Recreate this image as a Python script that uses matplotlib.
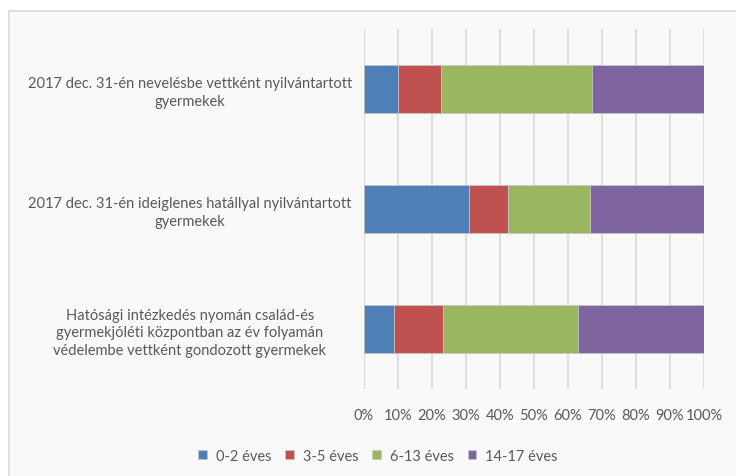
import matplotlib.pyplot as plt
from matplotlib.patches import Rectangle

# Adatok (leolvasva az ábráról, %)
categories = [
    '2017 dec. 31-én nevelésbe vettként nyilvántartott\ngyermekek',
    '2017 dec. 31-én ideiglenes hatállyal nyilvántartott\ngyermekek',
    'Hatósági intézkedés nyomán család-és\ngyermekjóléti központban az év folyamán\nvédelembe vettként gondozott gyermekek',
]
series_names = ['0-2 éves', '3-5 éves', '6-13 éves', '14-17 éves']
age_0_2 = [10.1, 31.0, 8.9]
age_3_5 = [12.5, 11.3, 14.3]
age_6_13 = [44.4, 24.3, 39.7]
age_14_17 = [33.0, 33.4, 37.1]
tick_labels = ['0%', '10%', '20%', '30%', '40%', '50%', '60%', '70%', '80%', '90%', '100%']

colors = ['#4f7fb7', '#bf5250', '#9bb660', '#7f65a0']
text_color = '#595959'

plt.rcParams['font.family'] = ['Lato', 'DejaVu Sans']

fig = plt.figure(figsize=(7.36, 4.77), dpi=100)
fig.patch.set_facecolor('white')

# keret a diagramterület körül
frame = Rectangle((8.5 / 736, -0.01), 1.0, 1.01 - 11.5 / 477, transform=fig.transFigure,
                  facecolor='#f9f9f9', edgecolor='#d9d9d9', linewidth=1.2, zorder=-10)
fig.patches.append(frame)

ax = fig.add_axes([364 / 736, 1 - 390 / 477, 340 / 736, 360 / 477])
ax.set_facecolor('none')

y = list(range(len(categories)))
data = [age_0_2, age_3_5, age_6_13, age_14_17]
left = [0.0] * len(categories)
for name, vals, col in zip(series_names, data, colors):
    ax.barh(y, vals, left=left, height=0.4, color=col, label=name,
            edgecolor='#c8c8c8', linewidth=0.5, zorder=3)
    left = [l + v for l, v in zip(left, vals)]

ax.set_ylim(2.5, -0.5)
ax.set_xlim(0, 100)
ax.set_xticks(range(0, 101, 10))
ax.set_xticklabels(tick_labels, color=text_color, fontsize=10.5)
ax.set_yticks(y)
ax.set_yticklabels(categories, color=text_color, fontsize=10.5, ha='center',
                   linespacing=1.35)
# a címkék középre igazítva, középpontjuk kb. 174 px-re a tengelytől
ax.tick_params(axis='y', length=0, pad=125.5)
ax.tick_params(axis='x', length=0, pad=14)
ax.grid(axis='x', color='#d9d9d9', linewidth=1.2, zorder=0)
for s in ax.spines.values():
    s.set_visible(False)
ax.axvline(0, color='#d9d9d9', linewidth=1.5, zorder=1)

leg = fig.legend(loc='center', bbox_to_anchor=(378 / 736, 1 - 457 / 477), ncol=4,
                 frameon=False, fontsize=10.5, handlelength=0.6, handleheight=0.6,
                 handletextpad=0.6, columnspacing=0.95)
for t in leg.get_texts():
    t.set_color(text_color)

fig.savefig('out.png', dpi=100)
